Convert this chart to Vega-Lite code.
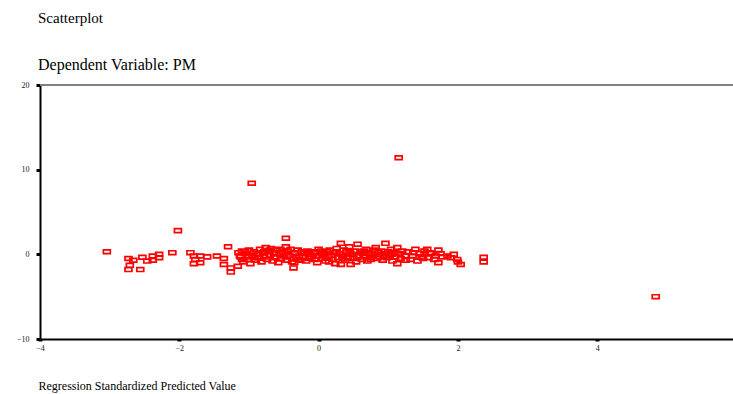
{
  "$schema": "https://vega.github.io/schema/vega-lite/v6.json",
  "autosize": "none",
  "width": 693,
  "height": 254,
  "padding": {"left": 40, "top": 85, "right": 0, "bottom": 55},
  "background": "white",
  "title": {
    "text": "Scatterplot",
    "subtitle": "Dependent Variable: PM",
    "anchor": "start",
    "frame": "group",
    "font": "Liberation Serif",
    "fontSize": 15,
    "fontWeight": "normal",
    "color": "#000000",
    "subtitleFont": "Liberation Serif",
    "subtitleFontSize": 16,
    "subtitleColor": "#000000",
    "subtitlePadding": 31,
    "offset": 8,
    "dx": -2
  },
  "config": {
    "view": {"stroke": null},
    "axis": {
      "grid": false,
      "labelFont": "Liberation Serif",
      "labelFontSize": 8,
      "labelColor": "#222222",
      "domainColor": "#000000",
      "domainWidth": 2,
      "tickColor": "#000000",
      "titleFont": "Liberation Serif",
      "titleFontWeight": "normal",
      "titleColor": "#000000"
    }
  },
  "data": {
    "values": [
      {"x": -3.04, "y": 0.3}, {"x": -2.73, "y": -0.5}, {"x": -2.66, "y": -0.7}, {"x": -2.71, "y": -1.3},
      {"x": -2.73, "y": -1.8}, {"x": -2.56, "y": -1.8}, {"x": -2.53, "y": -0.35}, {"x": -2.46, "y": -0.8},
      {"x": -2.38, "y": -0.2}, {"x": -2.38, "y": -0.7}, {"x": -2.29, "y": 0.0}, {"x": -2.29, "y": -0.4},
      {"x": -2.1, "y": 0.2}, {"x": -2.02, "y": 2.8}, {"x": -1.84, "y": 0.2}, {"x": -1.79, "y": -0.2},
      {"x": -1.77, "y": -0.6}, {"x": -1.79, "y": -1.1}, {"x": -1.7, "y": -0.2}, {"x": -1.6, "y": -0.3},
      {"x": -1.7, "y": -1.0}, {"x": -1.46, "y": -0.2}, {"x": -1.36, "y": -0.5}, {"x": -1.3, "y": 0.9},
      {"x": -1.36, "y": -1.2}, {"x": -1.26, "y": -1.6}, {"x": -1.26, "y": -2.1}, {"x": -1.16, "y": -1.4},
      {"x": -1.15, "y": 0.2}, {"x": -1.13, "y": -0.2}, {"x": -1.12, "y": -0.3}, {"x": -1.1, "y": 0.4},
      {"x": -1.1, "y": -0.6}, {"x": -1.08, "y": -0.9}, {"x": -1.06, "y": 0.3}, {"x": -1.05, "y": 0.1},
      {"x": -1.02, "y": -0.6}, {"x": -1.0, "y": 0.5}, {"x": -1.0, "y": -0.3}, {"x": -0.98, "y": -1.1},
      {"x": -0.96, "y": 8.4}, {"x": -0.95, "y": -0.2}, {"x": -0.93, "y": 0.3}, {"x": -0.92, "y": -0.4},
      {"x": -0.9, "y": -0.7}, {"x": -0.88, "y": 0.1}, {"x": -0.86, "y": -0.4}, {"x": -0.85, "y": 0.0},
      {"x": -0.84, "y": 0.6}, {"x": -0.82, "y": -0.9}, {"x": -0.8, "y": 0.2}, {"x": -0.78, "y": -0.3},
      {"x": -0.78, "y": 0.3}, {"x": -0.76, "y": 0.8}, {"x": -0.74, "y": -0.6}, {"x": -0.72, "y": 0.4},
      {"x": -0.7, "y": -0.1}, {"x": -0.7, "y": 0.5}, {"x": -0.68, "y": 0.7}, {"x": -0.66, "y": -0.8},
      {"x": -0.64, "y": 0.2}, {"x": -0.64, "y": -0.3}, {"x": -0.62, "y": -0.4}, {"x": -0.6, "y": 0.5},
      {"x": -0.58, "y": -1.0}, {"x": -0.56, "y": 0.1}, {"x": -0.55, "y": 0.6}, {"x": -0.54, "y": -0.5},
      {"x": -0.52, "y": 0.3}, {"x": -0.5, "y": -0.2}, {"x": -0.47, "y": 1.9}, {"x": -0.47, "y": 0.9},
      {"x": -0.46, "y": -0.7}, {"x": -0.45, "y": -0.3}, {"x": -0.44, "y": 0.4}, {"x": -0.42, "y": -0.1},
      {"x": -0.4, "y": 0.6}, {"x": -0.38, "y": -0.9}, {"x": -0.36, "y": -1.6}, {"x": -0.35, "y": -1.0},
      {"x": -0.34, "y": 0.2}, {"x": -0.32, "y": -0.4}, {"x": -0.3, "y": 0.5}, {"x": -0.3, "y": -0.6},
      {"x": -0.28, "y": -0.2}, {"x": -0.26, "y": -0.7}, {"x": -0.24, "y": 0.3}, {"x": -0.22, "y": -0.3},
      {"x": -0.2, "y": 0.1}, {"x": -0.18, "y": -0.8}, {"x": -0.16, "y": 0.4}, {"x": -0.15, "y": 0.2},
      {"x": -0.14, "y": -0.5}, {"x": -0.12, "y": 0.0}, {"x": -0.1, "y": -0.3}, {"x": -0.08, "y": 0.3},
      {"x": -0.06, "y": -0.6}, {"x": -0.04, "y": 0.2}, {"x": -0.02, "y": -1.0}, {"x": 0.0, "y": 0.6},
      {"x": 0.02, "y": -0.2}, {"x": 0.04, "y": 0.4}, {"x": 0.05, "y": 0.1}, {"x": 0.06, "y": -0.5},
      {"x": 0.08, "y": 0.1}, {"x": 0.1, "y": -0.8}, {"x": 0.12, "y": 0.3}, {"x": 0.14, "y": -0.3},
      {"x": 0.15, "y": -0.9}, {"x": 0.16, "y": 0.5}, {"x": 0.18, "y": -0.1}, {"x": 0.2, "y": -0.6},
      {"x": 0.22, "y": 0.2}, {"x": 0.24, "y": -1.1}, {"x": 0.25, "y": 0.3}, {"x": 0.26, "y": 0.7},
      {"x": 0.28, "y": -0.4}, {"x": 0.3, "y": 0.1}, {"x": 0.32, "y": 1.3}, {"x": 0.32, "y": -1.2},
      {"x": 0.34, "y": -0.2}, {"x": 0.35, "y": -0.5}, {"x": 0.36, "y": 0.5}, {"x": 0.38, "y": -0.7},
      {"x": 0.4, "y": 0.3}, {"x": 0.42, "y": -0.4}, {"x": 0.44, "y": 0.9}, {"x": 0.45, "y": 0.2},
      {"x": 0.46, "y": -1.2}, {"x": 0.48, "y": 0.0}, {"x": 0.5, "y": -0.5}, {"x": 0.52, "y": 0.4},
      {"x": 0.54, "y": -0.9}, {"x": 0.55, "y": -0.3}, {"x": 0.56, "y": 1.2}, {"x": 0.58, "y": -0.2},
      {"x": 0.6, "y": 0.3}, {"x": 0.62, "y": -0.6}, {"x": 0.64, "y": 0.1}, {"x": 0.65, "y": 0.4},
      {"x": 0.66, "y": -0.3}, {"x": 0.68, "y": 0.6}, {"x": 0.7, "y": -0.8}, {"x": 0.72, "y": 0.2},
      {"x": 0.74, "y": -0.4}, {"x": 0.75, "y": -0.6}, {"x": 0.76, "y": 0.0}, {"x": 0.78, "y": -0.2},
      {"x": 0.8, "y": 0.5}, {"x": 0.82, "y": 0.8}, {"x": 0.84, "y": -0.5}, {"x": 0.85, "y": 0.3},
      {"x": 0.86, "y": 0.2}, {"x": 0.88, "y": -0.3}, {"x": 0.9, "y": 0.4}, {"x": 0.92, "y": -0.7},
      {"x": 0.94, "y": 0.1}, {"x": 0.95, "y": -0.2}, {"x": 0.96, "y": 1.3}, {"x": 0.98, "y": -0.4},
      {"x": 1.0, "y": 0.3}, {"x": 1.02, "y": -0.1}, {"x": 1.04, "y": 0.6}, {"x": 1.05, "y": 0.0},
      {"x": 1.06, "y": -0.8}, {"x": 1.08, "y": 0.2}, {"x": 1.1, "y": -0.3}, {"x": 1.13, "y": 0.8},
      {"x": 1.13, "y": -1.1}, {"x": 1.15, "y": 11.4}, {"x": 1.16, "y": 0.1}, {"x": 1.18, "y": -0.5},
      {"x": 1.2, "y": 0.4}, {"x": 1.24, "y": -0.2}, {"x": 1.25, "y": -0.7}, {"x": 1.28, "y": 0.3},
      {"x": 1.32, "y": -0.6}, {"x": 1.35, "y": -0.2}, {"x": 1.36, "y": 0.2}, {"x": 1.39, "y": 0.6},
      {"x": 1.42, "y": -0.8}, {"x": 1.45, "y": 0.1}, {"x": 1.48, "y": -0.3}, {"x": 1.5, "y": -0.5},
      {"x": 1.52, "y": 0.4}, {"x": 1.56, "y": 0.6}, {"x": 1.58, "y": -0.4}, {"x": 1.6, "y": 0.2},
      {"x": 1.62, "y": 0.1}, {"x": 1.66, "y": -0.6}, {"x": 1.68, "y": -0.2}, {"x": 1.72, "y": 0.5},
      {"x": 1.72, "y": -1.0}, {"x": 1.75, "y": 0.1}, {"x": 1.78, "y": -0.3}, {"x": 1.85, "y": -0.2},
      {"x": 1.9, "y": -0.4}, {"x": 1.94, "y": 0.0}, {"x": 1.99, "y": -0.6}, {"x": 2.0, "y": -0.9},
      {"x": 2.04, "y": -1.2}, {"x": 2.37, "y": -0.35}, {"x": 2.37, "y": -0.9}, {"x": 4.84, "y": -5.0}
    ]
  },
  "layer": [
    {
      "mark": {"type": "rule", "color": "#808080", "strokeWidth": 2},
      "encoding": {"y": {"datum": 20, "type": "quantitative"}}
    },
    {
      "mark": {
        "type": "point",
        "shape": "M-1,-0.55H1V0.55H-1Z",
        "filled": false,
        "fill": "white",
        "fillOpacity": 0,
        "stroke": "#ff0000",
        "strokeWidth": 1.7,
        "opacity": 1,
        "size": 48
      },
      "encoding": {
        "x": {
          "field": "x",
          "type": "quantitative",
          "scale": {"domain": [-4, 5.95], "nice": false, "zero": false},
          "axis": {
            "values": [-4, -2, 0, 2, 4],
            "title": "Regression Standardized Predicted Value",
            "titleFontSize": 12,
            "titleAnchor": "start",
            "titleAlign": "left",
            "titleBaseline": "alphabetic",
            "titleX": -2,
            "titleY": 50,
            "tickSize": 2,
            "tickWidth": 4,
            "labelPadding": 3,
            "labelFlush": false
          }
        },
        "y": {
          "field": "y",
          "type": "quantitative",
          "scale": {"domain": [-10, 20], "nice": false, "zero": false},
          "axis": {
            "values": [-10, 0, 10, 20],
            "title": null,
            "tickSize": 4,
            "tickWidth": 3,
            "labelPadding": 7,
            "labelFlush": false
          }
        }
      }
    }
  ]
}
